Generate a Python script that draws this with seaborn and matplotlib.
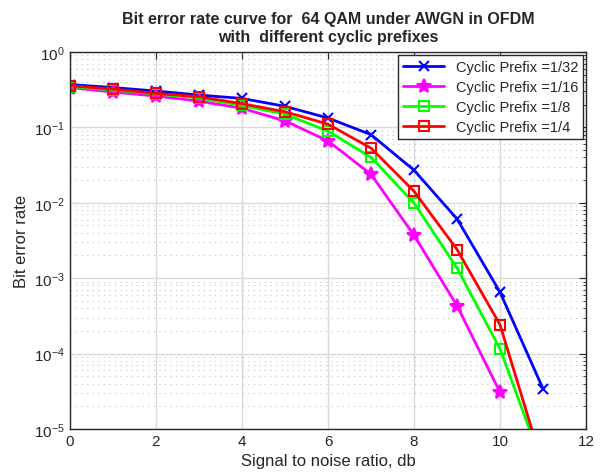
import numpy as np
import pandas as pd
import matplotlib

matplotlib.use("Agg")
import matplotlib.pyplot as plt
import seaborn as sns
from matplotlib.ticker import LogLocator, NullFormatter

snr_db = [0, 1, 2, 3, 4, 5, 6, 7, 8, 9, 10, 11]
ber_1_32 = [0.37, 0.337, 0.303, 0.268, 0.242, 0.19, 0.133, 0.080, 0.027, 0.0061, 6.5e-4, 3.4e-5]
ber_1_16 = [0.337, 0.294, 0.26, 0.223, 0.179, 0.122, 0.066, 0.0238, 0.0037, 4.3e-4, 3.05e-5]
ber_1_8 = [0.347, 0.313, 0.277, 0.245, 0.195, 0.15, 0.089, 0.040, 0.0099, 0.00136, 1.15e-4, 3.2e-6]
ber_1_4 = [0.356, 0.322, 0.282, 0.255, 0.206, 0.161, 0.11, 0.053, 0.0142, 0.0024, 2.4e-4, 3.2e-6]

series = [
    ("Cyclic Prefix =1/32", ber_1_32, "#0000ff", "x", {"markersize": 7}),
    ("Cyclic Prefix =1/16", ber_1_16, "#ff00ff", "*", {"markersize": 10}),
    ("Cyclic Prefix =1/8", ber_1_8, "#00ff00", "s", {"markerfacecolor": "none"}),
    ("Cyclic Prefix =1/4", ber_1_4, "#ff0000", "s", {"markerfacecolor": "none"}),
]

sns.set_style("white")
plt.rcParams["font.family"] = ["Liberation Sans", "DejaVu Sans"]
plt.rcParams["mathtext.fontset"] = "custom"
plt.rcParams["mathtext.rm"] = "Liberation Sans"

fig = plt.figure(figsize=(6.03, 4.77), dpi=100)
ax = fig.add_axes([0.116, 0.0985, 0.856, 0.7905])

for label, vals, color, marker, extra in series:
    df = pd.DataFrame({"snr": snr_db[: len(vals)], "ber": vals})
    kw = dict(markersize=6.5, markeredgewidth=1.5)
    kw.update(extra)
    sns.lineplot(data=df, x="snr", y="ber", ax=ax, color=color, marker=marker,
                 markeredgecolor=color, linewidth=2, label=label, **kw)

ax.set_yscale("log")
ax.set_xlim(0, 12)
ax.set_ylim(1e-5, 1)
ax.set_xticks(range(0, 13, 2))
ax.yaxis.set_major_locator(LogLocator(base=10, numticks=10))
ax.yaxis.set_minor_locator(LogLocator(base=10, subs=np.arange(2, 10), numticks=100))
ax.yaxis.set_minor_formatter(NullFormatter())

ax.grid(True, which="major", color="#d9d9d9", linewidth=1.0, linestyle="-")
ax.grid(True, which="minor", axis="y", color="#c4c4c4", linewidth=0.8, linestyle=(0, (1, 4)))
ax.set_axisbelow(True)

for sp in ax.spines.values():
    sp.set_color("#262626")
    sp.set_linewidth(1.0)
ax.tick_params(which="both", direction="in", top=True, right=True, labelsize=11, colors="#262626")
ax.tick_params(which="major", length=5)
ax.tick_params(which="minor", length=2.5)

ax.set_xlabel("Signal to noise ratio, db", fontsize=12)
ax.set_ylabel("Bit error rate", fontsize=12)
ax.set_title("Bit error rate curve for  64 QAM under AWGN in OFDM\nwith  different cyclic prefixes",
             fontsize=11.5, fontweight="bold", pad=8)

leg = ax.legend(loc="upper right", fontsize=10.5, frameon=True, fancybox=False,
                edgecolor="#262626", framealpha=1, borderaxespad=0.2, handlelength=2.8,
                labelspacing=0.42, borderpad=0.35)
leg.get_frame().set_linewidth(1.0)

fig.savefig("out.png", dpi=100)
